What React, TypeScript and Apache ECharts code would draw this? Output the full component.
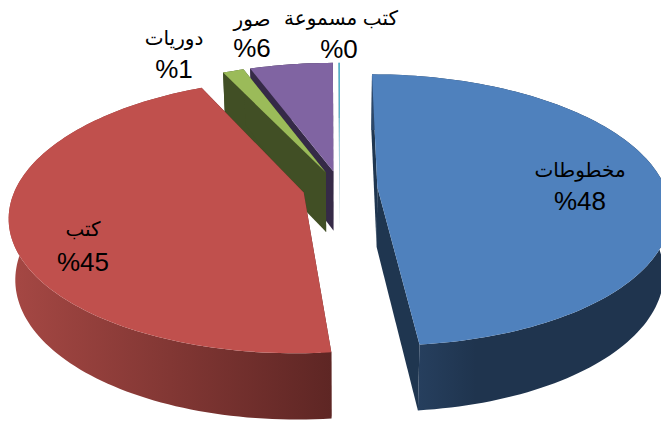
import React, { useEffect, useRef } from "react";
import * as echarts from "echarts";

const categories = ["مخطوطات", "كتب", "دوريات", "صور", "كتب مسموعة"];
const shares = [48.4, 44.6, 1.4, 5.5, 0.1];
const topColors = ["#4F81BD", "#C0504D", "#9BBB59", "#8064A2", "#4BACC6"];
const cutColors = ["#1F3650", "#5E2624", "#414F25", "#352A47", "#A9C9D2"];
const wallStops = [
  [[0, "#2C486B"], [0.35, "#1F344E"], [1, "#1F344E"]],
  [[0, "#A64844"], [1, "#5E2624"]],
  [[0, "#414F25"], [1, "#414F25"]],
  [[0, "#352A47"], [1, "#352A47"]],
  [[0, "#A9C9D2"], [1, "#A9C9D2"]],
];
const drawOrder = [4, 3, 2, 0, 1];
const labelAnchors = [[580, 170], [83, 229], [174, 38], [252, 19], [341, 18]];
const percentAnchors = [[580, 201], [83, 262], [174, 69], [252, 48], [339, 49]];

const CX = 340, CY = 188, RX = 288, RY = 132, PERSP = 0.168;
const DEPTH = 60, RY_BOTTOM = 137, SHRINK = 0.98, EXPLODE = 0.13;
const FONT = '"Liberation Sans", "DejaVu Sans", sans-serif';

function project(u: number, v: number, bottom: boolean): number[] {
  const w = 1 / (1 - PERSP * v);
  return bottom
    ? [CX + SHRINK * RX * u * w, CY + DEPTH + RY_BOTTOM * v * w]
    : [CX + RX * u * w, CY + RY * v * w];
}

const total = shares.reduce((s, v) => s + v, 0);
const starts: number[] = [];
shares.reduce((s, v, i) => { starts[i] = s; return s + v; }, 0);

function renderSlice(_: any, api: any) {
  const i = api.value(0);
  const a0 = (starts[i] / total) * Math.PI * 2;
  const a1 = ((starts[i] + shares[i]) / total) * Math.PI * 2;
  const mid = (a0 + a1) / 2;
  const u0 = EXPLODE * Math.sin(mid);
  const v0 = -EXPLODE * Math.cos(mid);
  const arc = (bottom: boolean) => {
    const pts: number[][] = [];
    const n = Math.max(4, Math.ceil((a1 - a0) * 40));
    for (let k = 0; k <= n; k++) {
      const t = a0 + ((a1 - a0) * k) / n;
      pts.push(project(u0 + Math.sin(t), v0 - Math.cos(t), bottom));
    }
    return pts;
  };
  const topArc = arc(false);
  const botArc = arc(true);
  const apexT = project(u0, v0, false);
  const apexB = project(u0, v0, true);
  const poly = (points: number[][], fill: any) => ({
    type: "polygon",
    shape: { points },
    style: { fill, stroke: null },
    silent: true,
  });
  const wallFill = new echarts.graphic.LinearGradient(
    0, 0, 1, 0,
    wallStops[i].map((s: any) => ({ offset: s[0], color: s[1] }))
  );
  return {
    type: "group",
    children: [
      poly([apexT, topArc[0], botArc[0], apexB], cutColors[i]),
      poly([apexT, topArc[topArc.length - 1], botArc[botArc.length - 1], apexB], cutColors[i]),
      poly([...topArc, ...botArc.slice().reverse()], wallFill),
      poly([apexT, ...topArc], topColors[i]),
    ],
  };
}

const labelGraphics = categories.flatMap((c, i) => [
  {
    type: "text", x: labelAnchors[i][0], y: labelAnchors[i][1], z: 10,
    style: { text: c, fill: "#000", font: `20px ${FONT}`, align: "center", verticalAlign: "middle" },
  },
  {
    type: "text", x: percentAnchors[i][0], y: percentAnchors[i][1], z: 10,
    style: { text: `%${Math.round(shares[i])}`, fill: "#000", font: `26px ${FONT}`, align: "center", verticalAlign: "middle" },
  },
]);

export default function App() {
  const ref = useRef<HTMLDivElement>(null);
  useEffect(() => {
    document.body.style.margin = "0";
    const chart = echarts.init(ref.current!, undefined, { renderer: "svg" });
    chart.setOption({
      animation: false,
      backgroundColor: "#fff",
      graphic: labelGraphics,
      series: [
        {
          type: "custom",
          coordinateSystem: "none",
          silent: true,
          renderItem: renderSlice,
          data: drawOrder.map((i) => [i]),
        },
      ],
    });
    return () => chart.dispose();
  }, []);
  return <div ref={ref} style={{ width: 661, height: 426 }} />;
}
